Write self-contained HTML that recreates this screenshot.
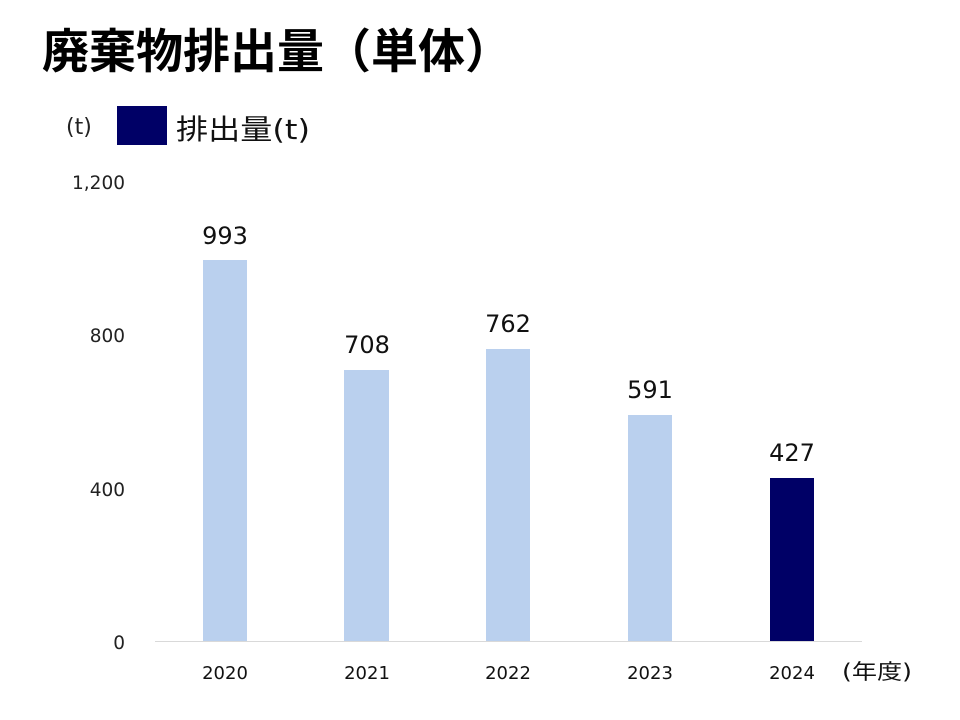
<!DOCTYPE html>
<html><head><meta charset="utf-8"><style>
body{margin:0;background:#fff;}
svg{display:block;font-family:"DejaVu Sans","Noto Sans CJK JP",sans-serif;}
</style></head><body>
<svg width="960" height="720" viewBox="0 0 960 720">
<text x="42" y="68" font-size="47" font-weight="bold" fill="#000" font-family="Liberation Sans, Noto Sans CJK JP, sans-serif">廃棄物排出量（単体）</text>
<text x="66" y="134" font-size="22" fill="#222">(t)</text>
<rect x="117" y="106" width="50" height="39" fill="#000066"/>
<text x="176" y="139" font-size="28" fill="#111" textLength="134" lengthAdjust="spacingAndGlyphs">排出量(t)</text>
<g font-size="18.5" fill="#222" text-anchor="end">
<text x="125" y="189">1,200</text>
<text x="125" y="342">800</text>
<text x="125" y="496">400</text>
<text x="125" y="649">0</text>
</g>
<line x1="155" y1="641.5" x2="862" y2="641.5" stroke="#d9d9d9" stroke-width="1"/>
<rect x="203" y="260" width="44" height="381" fill="#bad0ee"/>
<rect x="344" y="370" width="45" height="271" fill="#bad0ee"/>
<rect x="486" y="349" width="44" height="292" fill="#bad0ee"/>
<rect x="628" y="415" width="44" height="226" fill="#bad0ee"/>
<rect x="770" y="478" width="44" height="163" fill="#000066"/>
<g font-size="24" fill="#111" text-anchor="middle">
<text x="225" y="244">993</text>
<text x="367" y="353">708</text>
<text x="508" y="332">762</text>
<text x="650" y="398">591</text>
<text x="792" y="461">427</text>
</g>
<g font-size="18" fill="#111" text-anchor="middle">
<text x="225" y="679">2020</text>
<text x="367" y="679">2021</text>
<text x="508" y="679">2022</text>
<text x="650" y="679">2023</text>
<text x="792" y="679">2024</text>
</g>
<text x="842" y="679" font-size="21" fill="#111" textLength="70" lengthAdjust="spacingAndGlyphs">(年度)</text>
</svg>
</body></html>
